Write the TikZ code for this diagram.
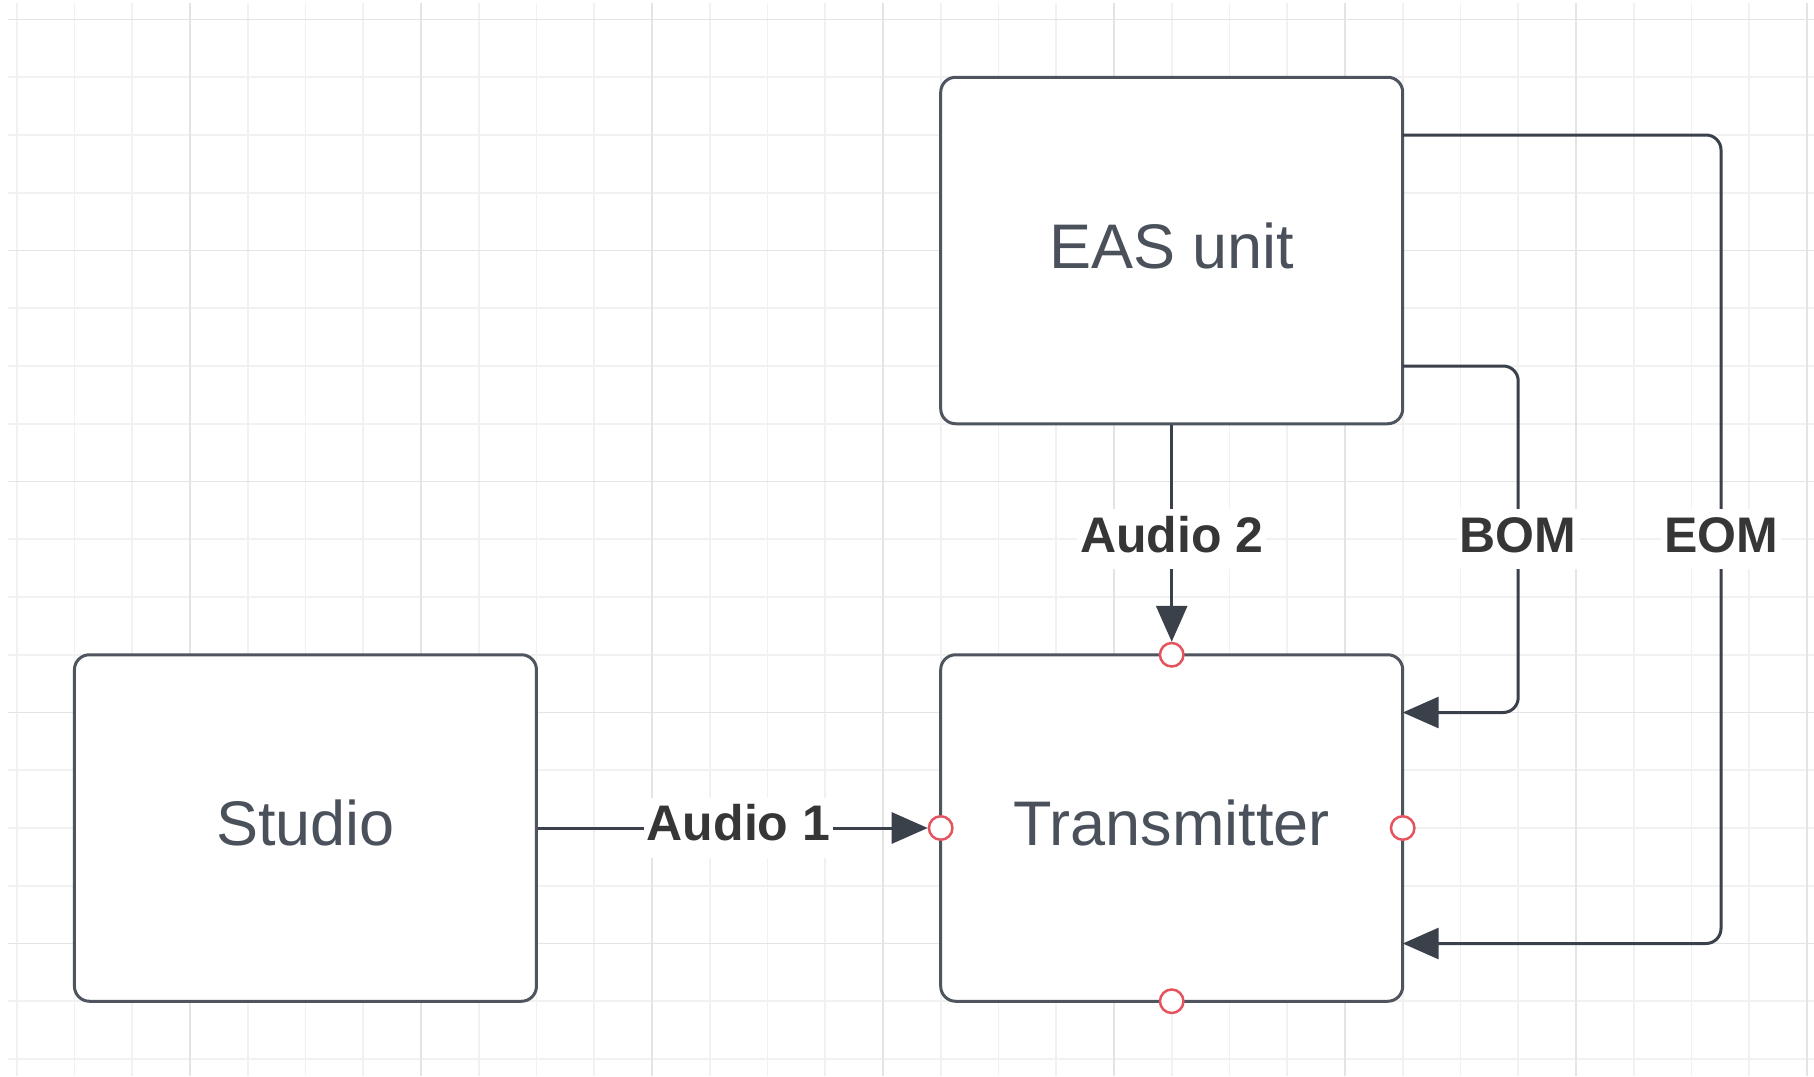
\documentclass[tikz,border=0pt]{standalone}
\usepackage{fontspec}
\setmainfont{Liberation Sans}
\usetikzlibrary{arrows.meta}
\definecolor{gridmin}{HTML}{F1F1F1}
\definecolor{gridmaj}{HTML}{E4E4E4}
\definecolor{boxline}{HTML}{4E555F}
\definecolor{connline}{HTML}{3A414B}
\definecolor{boxtext}{HTML}{4A515B}
\definecolor{lbltext}{HTML}{363636}
\definecolor{portred}{HTML}{E5535F}
\tikzset{
  gridminline/.style={draw=gridmin,line width=1.6pt},
  gridmajline/.style={draw=gridmaj,line width=1.8pt},
  blockbox/.style={draw=boxline,fill=white,line width=3pt,rounded corners=15pt,
    minimum width=462pt,minimum height=346.5pt,inner sep=0pt,
    font=\fontsize{63}{70}\selectfont,text=boxtext,
    text height=45.1pt,text depth=10.1pt},
  conn/.style={draw=connline,line width=3pt,rounded corners=15pt,
    -{Triangle[length=36pt,width=31pt]}},
  lbl/.style={fill=white,text=lbltext,font=\fontsize{50}{56}\bfseries\selectfont,
    inner xsep=3pt,inner ysep=7pt,text height=35.8pt,text depth=10pt},
  port/.style={circle,draw=portred,fill=white,line width=2.5pt,
    minimum size=23.5pt,inner sep=0pt}
}
\begin{document}
\begin{tikzpicture}[x=1pt,y=-1pt]
\useasboundingbox[fill=white] (0,0) rectangle (1814,1076);
% grid
\foreach \k in {0,...,31}{\draw[gridminline] ({16.7+57.75*\k},3) -- ({16.7+57.75*\k},1076);}
\foreach \k in {0,...,18}{\draw[gridminline] (8,{19.5+57.75*\k}) -- (1814,{19.5+57.75*\k});}
\foreach \k in {3,7,...,31}{\draw[gridmajline] ({16.7+57.75*\k},3) -- ({16.7+57.75*\k},1076);}
\foreach \k in {0,4,...,16}{\draw[gridmajline] (8,{19.5+57.75*\k}) -- (1814,{19.5+57.75*\k});}
% blocks
\node[blockbox] (studio) at (305.45,828) {Studio};
\node[blockbox] (trans) at (1171.7,828) {Transmitter};
\node[blockbox] (eas) at (1171.7,250.5) {EAS unit};
% ports
\coordinate (ptop) at (1171.7,654.75);
\coordinate (pleft) at (940.7,828);
\coordinate (pright) at (1402.7,828);
\coordinate (pbot) at (1171.7,1001.25);
% waypoints
\coordinate (bomA) at (1402.7,366);
\coordinate (bomB) at (1518.2,366);
\coordinate (bomC) at (1518.2,712.5);
\coordinate (bomD) at (1402.7,712.5);
\coordinate (eomA) at (1402.7,135);
\coordinate (eomB) at (1721,135);
\coordinate (eomC) at (1721,943.5);
\coordinate (eomD) at (1402.7,943.5);
% invisible port outlines used as connector ends
\path (ptop) node[port,draw=none,fill=none] (ctop) {};
\path (pleft) node[port,draw=none,fill=none] (cleft) {};
% connectors
\draw[conn] (studio.east) -- (cleft);
\draw[conn] (eas.south) -- (ctop);
\draw[conn] (bomA) -- (bomB) -- (bomC) -- (bomD);
\draw[conn] (eomA) -- (eomB) -- (eomC) -- (eomD);
% labels
\node[lbl] (la1) at (738.5,828) {Audio 1};
\node[lbl] (la2) at (1171.7,539.25) {Audio 2};
\node[lbl] (lbom) at (1518.2,539.25) {BOM};
\node[lbl] (leom) at (1721,539.25) {EOM};
% ports drawn
\node[port] (dtop) at (ptop) {};
\node[port] (dleft) at (pleft) {};
\node[port] (dright) at (pright) {};
\node[port] (dbot) at (pbot) {};
\end{tikzpicture}
\end{document}
